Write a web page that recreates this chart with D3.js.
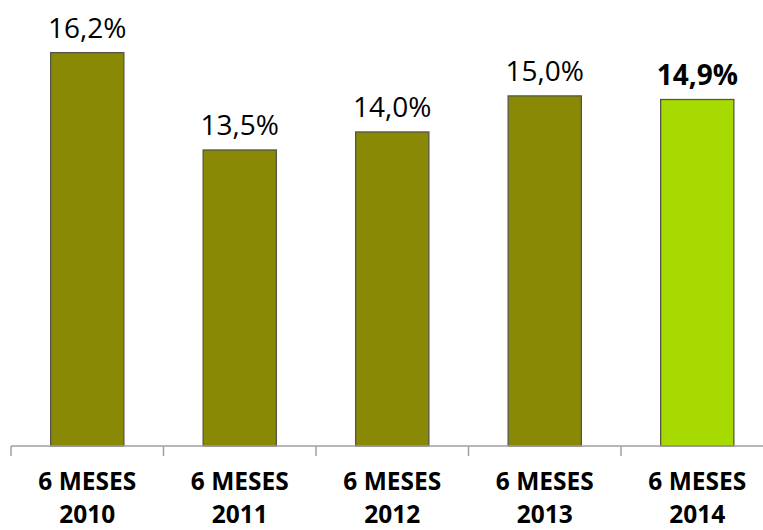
<!DOCTYPE html>
<html><head><meta charset="utf-8">
<script src="https://cdn.jsdelivr.net/npm/d3@7/dist/d3.min.js"></script>
<style>body{margin:0;background:#fff}svg{display:block}</style>
</head><body>
<svg id="c" width="763" height="530"></svg>
<script>
const categories = ["6 MESES\n2010","6 MESES\n2011","6 MESES\n2012","6 MESES\n2013","6 MESES\n2014"];
const values = [16.2, 13.5, 14.0, 15.0, 14.9];
const valueLabels = ["16,2%","13,5%","14,0%","15,0%","14,9%"];
const highlight = [false,false,false,false,true];

const svg = d3.select("#c");
const baseY = 446;
const x = d3.scaleBand().domain(categories).range([11, 773.5]).paddingInner(0.52).paddingOuter(0.26);
const y = d3.scaleLinear().domain([5.29, 17.66]).range([baseY, 0]);

svg.selectAll("rect.bar").data(values).join("rect")
  .attr("class","bar")
  .attr("x",(d,i)=>x(categories[i]))
  .attr("width",x.bandwidth())
  .attr("y",d=>y(d))
  .attr("height",d=>baseY-y(d))
  .attr("fill",(d,i)=>highlight[i]?"#a6da00":"#8a8905")
  .attr("stroke","#555547").attr("stroke-width",1.3);

// axis
const step = x.step();
const g = svg.append("g");
g.append("line").attr("x1",11).attr("x2",763).attr("y1",baseY).attr("y2",baseY)
  .attr("stroke","#a0a0a0").attr("stroke-width",1.5);
const tickPos = d3.range(categories.length+1).map(i=>x.range()[0]+i*step);
g.selectAll("line.tick").data(tickPos).join("line").attr("class","tick")
  .attr("x1",d=>d).attr("x2",d=>d).attr("y1",baseY).attr("y2",baseY+10)
  .attr("stroke","#a0a0a0").attr("stroke-width",1.5);

// category labels
categories.forEach((c,i)=>{
  const cx = x(c)+x.bandwidth()/2;
  const lines = c.split("\n");
  const t = svg.append("text").attr("x",cx).attr("text-anchor","middle")
    .attr("font-family","'Open Sans', sans-serif").attr("font-weight","bold")
    .attr("font-size",24.5).attr("fill","#000");
  lines.forEach((l,j)=>t.append("tspan").attr("x",cx).attr("y",490+j*33).text(l));
});

// value labels
svg.selectAll("text.val").data(values).join("text").attr("class","val")
  .attr("x",(d,i)=>x(categories[i])+x.bandwidth()/2)
  .attr("y",d=>y(d)-15)
  .attr("text-anchor","middle")
  .attr("font-family","'Open Sans', sans-serif")
  .attr("font-size",28)
  .attr("font-weight",(d,i)=>highlight[i]?"bold":"normal")
  .attr("fill","#000")
  .text((d,i)=>valueLabels[i]);
</script>
</body></html>
